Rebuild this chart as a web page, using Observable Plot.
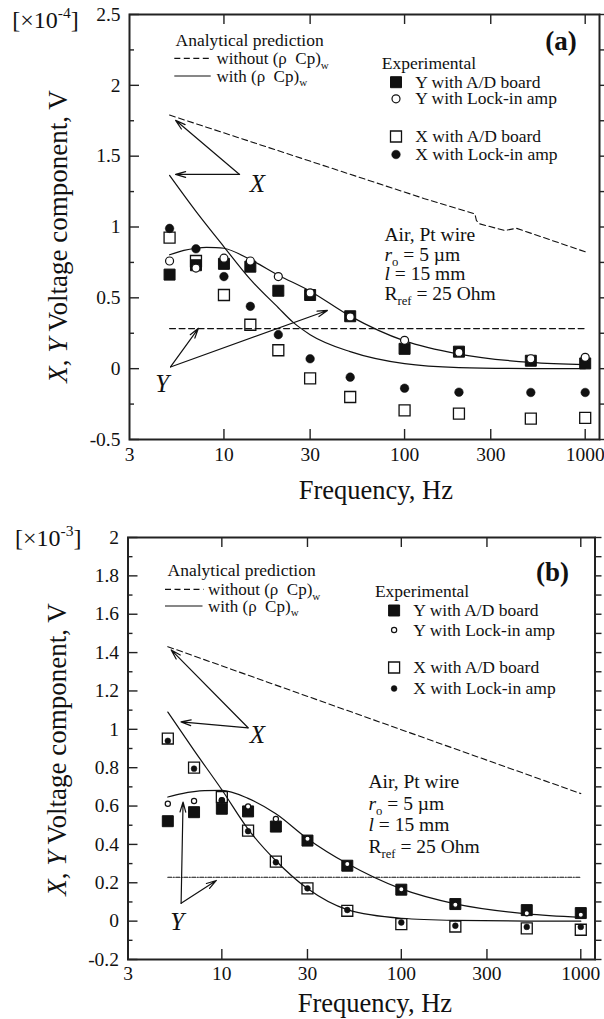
<!DOCTYPE html>
<html><head><meta charset="utf-8">
<script src="https://cdn.jsdelivr.net/npm/d3@7"></script>
<script src="https://cdn.jsdelivr.net/npm/@observablehq/plot@0.6"></script>
<style>
body{margin:0;background:#fff;}
#chart{width:604px;}
#chart svg{display:block;font-family:"Liberation Serif","Times New Roman",serif;}
</style></head><body><div id="chart"></div>
<script>
// ---------- shared ----------
const freq = [5, 7, 10, 14, 20, 30, 50, 100, 200, 500, 1000];
const xTickLabels = [3, 10, 30, 100, 300, 1000];
const xTickMarks = [10, 30, 100, 300, 1000];

// ---------- panel (a), units 1e-4 V ----------
const aYAD   = [0.664, 0.73, 0.74, 0.72, 0.55, 0.52, 0.37, 0.14, 0.12, 0.056, 0.037];
const aYLock = [0.76, 0.71, 0.78, 0.76, 0.65, 0.535, 0.365, 0.20, 0.115, 0.07, 0.08];
const aXAD   = [0.925, 0.76, 0.52, 0.31, 0.13, -0.068, -0.20, -0.294, -0.318, -0.353, -0.348];
const aXLock = [0.99, 0.846, 0.65, 0.44, 0.24, 0.07, -0.06, -0.138, -0.166, -0.168, -0.168];
const aXNoCapF = [5, 129, 245, 250, 261, 359, 416, 1000];
const aXNoCapV = [1.79, 1.2, 1.093, 1.045, 1.022, 0.975, 0.991, 0.825];
const aXCapF = [5, 7, 10, 14, 20, 24, 30, 50, 100, 200, 500, 1000];
const aXCapV = [1.364, 1.11, 0.86, 0.63, 0.43, 0.33, 0.24, 0.12, 0.035, 0.008, 0.001, 0];
const aYCapF = [5, 6, 7, 8, 9, 10, 14, 20, 30, 50, 100, 200, 500, 1000];
const aYCapV = [0.804, 0.835, 0.85, 0.856, 0.855, 0.85, 0.77, 0.66, 0.547, 0.371, 0.196, 0.103, 0.044, 0.028];
const aYNoCapF = [5, 1000];
const aYNoCapV = [0.283, 0.283];
const aYTicks = [-0.5, 0, 0.5, 1, 1.5, 2, 2.5];
const aYMinor = [-0.25, 0.25, 0.75, 1.25, 1.75, 2.25];
const aArrows = [
  {x1: 12.2, y1: 1.371, x2: 5.4, y2: 1.753},
  {x1: 12.2, y1: 1.371, x2: 5.4, y2: 1.371},
  {x1: 5.06, y1: 0.012, x2: 7.22, y2: 0.285},
  {x1: 5.06, y1: 0.012, x2: 37.4, y2: 0.411}
];
const aLetters = [{f: 15.3, v: 1.305, t: "X"}, {f: 4.55, v: -0.11, t: "Y"}];

// ---------- panel (b), units 1e-3 V ----------
const bYAD   = [0.521, 0.568, 0.586, 0.572, 0.493, 0.42, 0.289, 0.164, 0.089, 0.0575, 0.042];
const bYLock = [0.612, 0.626, 0.63, 0.598, 0.533, 0.429, 0.298, 0.166, 0.086, 0.041, 0.033];
const bXAD   = [0.952, 0.80, 0.647, 0.472, 0.31, 0.171, 0.054, -0.016, -0.028, -0.038, -0.045];
const bXLock = [0.94, 0.795, 0.63, 0.469, 0.307, 0.171, 0.058, -0.007, -0.024, -0.03, -0.03];
const bXNoCapF = [5, 1000];
const bXNoCapV = [1.431, 0.665];
const bXCapF = [5, 7, 10, 14, 20, 30, 50, 100, 200, 500, 1000];
const bXCapV = [1.09, 0.89, 0.685, 0.48, 0.315, 0.17, 0.06, 0.015, 0.004, 0.0005, 0];
const bYCapF = [5, 6, 7, 8, 10, 14, 20, 30, 50, 100, 200, 500, 1000];
const bYCapV = [0.647, 0.665, 0.675, 0.68, 0.682, 0.64, 0.56, 0.43, 0.30, 0.168, 0.09, 0.038, 0.02];
const bYNoCapF = [5, 1000];
const bYNoCapV = [0.229, 0.229];
const bYTicks = [-0.2, 0, 0.2, 0.4, 0.6, 0.8, 1, 1.2, 1.4, 1.6, 1.8, 2];
const bYMinor = [-0.1, 0.1, 0.3, 0.5, 0.7, 0.9, 1.1, 1.3, 1.5, 1.7, 1.9];
const bArrows = [
  {x1: 14.0, y1: 1.008, x2: 5.22, y2: 1.414},
  {x1: 14.0, y1: 1.008, x2: 5.92, y2: 1.039},
  {x1: 5.93, y1: 0.093, x2: 6.08, y2: 0.621},
  {x1: 5.93, y1: 0.093, x2: 9.32, y2: 0.212}
];
const bLetters = [{f: 15.8, v: 0.97, t: "X"}, {f: 5.64, v: -0.006, t: "Y"}];

// ---------- texts ----------
const yLabel = "<i>X</i>, <i>Y</i> Voltage component, V";
const xLabel = "Frequency, Hz";
const legTitle = "Analytical prediction";
const legLineLabels = ["without (\u03c1\u00a0 Cp)<sub>w</sub>", "with (\u03c1\u00a0 Cp)<sub>w</sub>"];
const expTitle = "Experimental";
const expLabels = ["Y with A/D board", "Y with Lock-in amp", "X with A/D board", "X with Lock-in amp"];
const infoLines = ["Air, Pt wire", "<i>r</i><sub>o</sub> = 5 \u00b5m", "<i>l</i> = 15 mm", "R<sub>ref</sub> = 25 Ohm"];

const INK = "#111";
const FONT = "Liberation Serif, Times New Roman, serif";
const pts = (vals) => freq.map((f, i) => ({f, v: vals[i]}));
const crv = (fs, vs) => fs.map((f, i) => ({f, v: vs[i]}));

function label(s, dx, dy, size, anchor = "start", extra = {}) {
  return Plot.text([s], {frameAnchor: "top-left", dx, dy, textAnchor: anchor, lineAnchor: "middle",
    fontSize: size, fill: INK, fontFamily: FONT, ...extra});
}

function lineSamples(items) {
  return (index, scales, values, dims) => {
    const g = d3.create("svg:g").attr("stroke", INK).attr("stroke-width", 1.2);
    for (const it of items) {
      g.append("line")
        .attr("x1", dims.marginLeft + it.x0).attr("x2", dims.marginLeft + it.x1)
        .attr("y1", dims.marginTop + it.dy).attr("y2", dims.marginTop + it.dy)
        .attr("stroke-dasharray", it.dash || null);
    }
    return g.node();
  };
}

function makePanel(c) {
  const W = 604;
  const pw = W - c.ml - c.mr, ph = c.h - c.mt - c.mb;
  const tickStyle = {stroke: "#222", strokeWidth: 1.4};
  const symbols = [
    {symbol: "square", r: 6.2, fill: INK, stroke: INK, strokeWidth: 1},
    {symbol: "circle", r: c.cr, fill: "white", stroke: INK, strokeWidth: 1.2},
    {symbol: "square", r: 6.2, fill: "none", stroke: INK, strokeWidth: 1.3},
    {symbol: "circle", r: c.cr + 0.3, fill: INK, stroke: INK, strokeWidth: 0.5}
  ];
  const marks = [
    Plot.tickY(c.yTicks, {y: d => d, insetRight: pw - 10, ...tickStyle}),
    Plot.tickY(c.yMinor, {y: d => d, insetRight: pw - 5, ...tickStyle}),
    Plot.tickY([...c.yTicks, ...c.yMinor], {y: d => d, insetLeft: pw, insetRight: -7, ...tickStyle}),
    Plot.tickX(xTickMarks, {x: d => d, insetTop: ph - 10, ...tickStyle}),
    Plot.tickX(xTickMarks, {x: d => d, insetBottom: ph - 10, ...tickStyle}),
    Plot.axisY({ticks: c.yTicks, tickSize: 0, tickPadding: 9, tickFormat: d => String(d), label: null, fontSize: 19.5, fontFamily: FONT, fill: INK}),
    Plot.axisX({ticks: xTickLabels, tickSize: 0, tickPadding: c.xPad, tickFormat: d => String(d), label: null, fontSize: 19.5, fontFamily: FONT, fill: INK}),
    Plot.frame({stroke: "#222", strokeWidth: 2}),
    Plot.line(crv(c.xNoCapF, c.xNoCapV), {x: "f", y: "v", stroke: INK, strokeWidth: 1.1, strokeDasharray: "6,3.5"}),
    Plot.line(crv(c.yNoCapF, c.yNoCapV), {x: "f", y: "v", stroke: INK, strokeWidth: 1.1, strokeDasharray: c.yDash}),
    Plot.line(crv(c.xCapF, c.xCapV), {x: "f", y: "v", stroke: INK, strokeWidth: 1.2, curve: "monotone-x"}),
    Plot.line(crv(c.yCapF, c.yCapV), {x: "f", y: "v", stroke: INK, strokeWidth: 1.2, curve: "monotone-x"}),
    Plot.dot(pts(c.yAD), {x: "f", y: "v", ...symbols[0]}),
    Plot.dot(pts(c.xAD), {x: "f", y: "v", ...symbols[2]}),
    Plot.dot(pts(c.yLock), {x: "f", y: "v", ...symbols[1]}),
    Plot.dot(pts(c.xLock), {x: "f", y: "v", ...symbols[3]}),
    Plot.arrow(c.arrows, {x1: "x1", y1: "y1", x2: "x2", y2: "y2", stroke: INK, strokeWidth: 1.2, headLength: 13, headAngle: 32}),
    Plot.text(c.letters, {x: "f", y: "v", text: "t", fontSize: 25, fontStyle: "italic", fill: INK, fontFamily: FONT}),
    label(xLabel, c.xLab[0], c.xLab[1], 26.5, "middle"),
    label(yLabel, c.yLab[0], c.yLab[1], 27, "middle", {rotate: -90}),
    label(c.unit, c.unitPos[0], c.unitPos[1], 24, "start"),
    label(c.tag, c.tagPos[0], c.tagPos[1], 27, "middle", {fontWeight: "bold"}),
    label(legTitle, c.leg.tx, c.leg.ty, 17.5),
    lineSamples([
      {x0: c.leg.x0, x1: c.leg.x1, dy: c.leg.rows[0], dash: "6,3.5"},
      {x0: c.leg.x0, x1: c.leg.x1 - 1, dy: c.leg.rows[1]}
    ]),
    ...legLineLabels.map((s, i) => label(s, c.leg.lx, c.leg.rows[i], 17)),
    label(expTitle, c.exp.tx, c.exp.ty, 17.5),
    ...expLabels.map((s, i) => label(s, c.exp.lx, c.exp.rows[i], 17.5)),
    ...[0, 1, 2, 3].map(i => Plot.dot([0], {frameAnchor: "top-left", dx: c.exp.mx, dy: c.exp.rows[i], ...symbols[i]})),
    ...infoLines.map((s, i) => label(s, c.info.x, c.info.rows[i], 19.5))
  ];
  return Plot.plot({
    width: W, height: c.h,
    marginTop: c.mt, marginBottom: c.mb, marginLeft: c.ml, marginRight: c.mr,
    x: {type: "log", domain: [3, 1200], label: null},
    y: {domain: c.yDomain, label: null},
    style: {fontSize: "19.5px", color: INK, background: "white", overflow: "visible"},
    marks
  });
}

function rich(root) {
  root.querySelectorAll("text").forEach(el => {
    const s = el.textContent;
    if (!/<\/?(i|sub|sup)>/.test(s)) return;
    const fs = parseFloat(getComputedStyle(el).fontSize);
    while (el.firstChild) el.removeChild(el.firstChild);
    let italic = false, mode = null, cur = 0;
    for (const tok of s.split(/(<\/?(?:i|sub|sup)>)/)) {
      if (!tok) continue;
      if (tok === "<i>") { italic = true; continue; }
      if (tok === "</i>") { italic = false; continue; }
      if (tok === "<sub>") { mode = "sub"; continue; }
      if (tok === "<sup>") { mode = "sup"; continue; }
      if (tok === "</sub>" || tok === "</sup>") { mode = null; continue; }
      const t = document.createElementNS("http://www.w3.org/2000/svg", "tspan");
      const target = mode === "sub" ? 0.25 * fs : mode === "sup" ? -0.42 * fs : 0;
      if (target !== cur) { t.setAttribute("dy", target - cur); cur = target; }
      if (mode) t.setAttribute("font-size", 0.65 * fs);
      if (italic) t.setAttribute("font-style", "italic");
      t.textContent = tok;
      el.appendChild(t);
    }
  });
}

const panelA = makePanel({
  h: 505, mt: 14, mb: 66, ml: 129, mr: 5, xPad: 8, cr: 4,
  yDomain: [-0.5, 2.5], yTicks: aYTicks, yMinor: aYMinor,
  yAD: aYAD, yLock: aYLock, xAD: aXAD, xLock: aXLock,
  xNoCapF: aXNoCapF, xNoCapV: aXNoCapV, xCapF: aXCapF, xCapV: aXCapV,
  yCapF: aYCapF, yCapV: aYCapV, yNoCapF: aYNoCapF, yNoCapV: aYNoCapV, yDash: "6,3.5",
  arrows: aArrows, letters: aLetters,
  xLab: [246.3, 476], yLab: [-71.5, 222],
  unit: "[\u00d710<sup>-4</sup>]", unitPos: [-117.3, 6],
  tag: "(a)", tagPos: [431.5, 27],
  leg: {tx: 46, ty: 26, x0: 45.3, x1: 82.7, lx: 87, rows: [44.3, 62]},
  exp: {tx: 252.3, ty: 49.3, mx: 266.5, lx: 285.7, rows: [67.7, 84.3, 122, 140]},
  info: {x: 255, rows: [220, 240, 259.5, 279.3]}
});
const panelB = makePanel({
  h: 514, mt: 32, mb: 60, ml: 127.5, mr: 9.5, xPad: 7, cr: 2.6,
  yDomain: [-0.2, 2.0], yTicks: bYTicks, yMinor: bYMinor,
  yAD: bYAD, yLock: bYLock, xAD: bXAD, xLock: bXLock,
  xNoCapF: bXNoCapF, xNoCapV: bXNoCapV, xCapF: bXCapF, xCapV: bXCapV,
  yCapF: bYCapF, yCapV: bYCapV, yNoCapF: bYNoCapF, yNoCapV: bYNoCapV, yDash: "4,1.5,1,1.5",
  arrows: bArrows, letters: bLetters,
  xLab: [246.9, 466.3], yLab: [-70.5, 212],
  unit: "[\u00d710<sup>-3</sup>]", unitPos: [-113, 1.3],
  tag: "(b)", tagPos: [424.5, 34.7],
  leg: {tx: 39.5, ty: 33, x0: 37.5, x1: 76, lx: 80, rows: [52.3, 69]},
  exp: {tx: 246.9, ty: 53.5, mx: 266.1, lx: 285.3, rows: [73, 92.5, 130, 151]},
  info: {x: 240.5, rows: [244.7, 266.3, 287, 309.7]}
});
const host = document.getElementById("chart");
host.append(panelA, panelB);
rich(host);
</script>
</body></html>
